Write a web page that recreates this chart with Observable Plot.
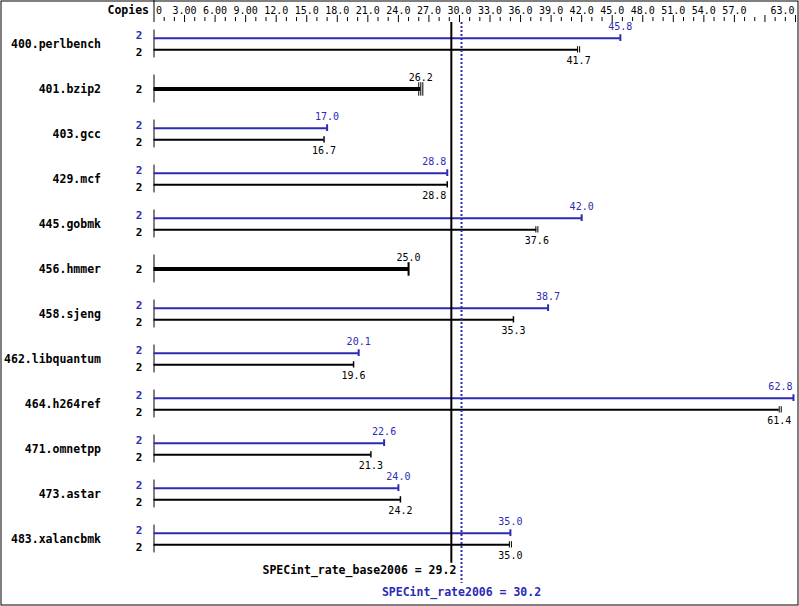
<!DOCTYPE html>
<html><head><meta charset="utf-8">
<script src="https://cdn.jsdelivr.net/npm/d3@7"></script>
<script src="https://cdn.jsdelivr.net/npm/@observablehq/plot@0.6"></script>
<style>body{margin:0;background:#fff}#chart svg{display:block}</style>
</head><body><div id="chart"></div>
<script>
const benchmarks = ["400.perlbench","401.bzip2","403.gcc","429.mcf","445.gobmk","456.hmmer","458.sjeng","462.libquantum","464.h264ref","471.omnetpp","473.astar","483.xalancbmk"];
const peakValues = [45.8, null, 17.0, 28.8, 42.0, null, 38.7, 20.1, 62.8, 22.6, 24.0, 35.0];
const baseValues = [41.7, 26.2, 16.7, 28.8, 37.6, 25.0, 35.3, 19.6, 61.4, 21.3, 24.2, 35.0];
const copies = [2,2,2,2,2,2,2,2,2,2,2,2];
const baseRuns = [[41.6,41.8],[26.0,26.2,26.4],[16.7],[28.8],[37.5,37.7],[25.0],[35.3],[19.6],[61.4,61.6],[21.3],[24.2],[34.9,35.1]];
const xTickValues = [0,3,6,9,12,15,18,21,24,27,30,33,36,39,42,45,48,51,54,57,63];
const xTickLabels = ["0","3.00","6.00","9.00","12.0","15.0","18.0","21.0","24.0","27.0","30.0","33.0","36.0","39.0","42.0","45.0","48.0","51.0","54.0","57.0","63.0"];
const baseScore = 29.2, peakScore = 30.2;
const baseLabel = "SPECint_rate_base2006 = 29.2";
const peakLabel = "SPECint_rate2006 = 30.2";

const BLUE = "#2b2bb3";
const FONT = "DejaVu Sans Mono";
const OFF = 0.13;

const rows = benchmarks.map((name, i) => ({name, i, peak: peakValues[i], base: baseValues[i], copies: copies[i], runs: baseRuns[i]}));
const dual = rows.filter(d => d.peak != null);
const single = rows.filter(d => d.peak == null);
const runTicks = rows.flatMap(d => d.runs.map(v => ({v, i: d.i, single: d.peak == null, n: d.runs.length})));
const ticks = xTickValues.map((v, k) => ({v, label: xTickLabels[k]}));
const minor = d3.range(0, 64, 1);
// labels that would collide with the summary line or the right edge are right-aligned
const shiftLeft = v => v >= 61 || (v < baseScore && baseScore - v < 1.2);

const HEAD_TOP = -0.9667, TICK_LABEL_Y = -0.744, MAJ1 = -0.633, MIN1 = -0.589, TICK_BOT = -0.478;

const chart = Plot.plot({
  width: 799, height: 606,
  marginTop: 0, marginRight: 0, marginBottom: 0, marginLeft: 0,
  x: {domain: [0, 63], range: [153.5, 795], axis: null},
  y: {domain: [-0.9667, 12.5], range: [0, 606], axis: null},
  style: {fontFamily: FONT, background: "white"},
  marks: [
    Plot.frame({stroke: "black", insetLeft: 0.5, insetTop: 0.5, insetBottom: 1.5, insetRight: 1.5}),
    // header axis
    Plot.ruleX([0], {x: d => d, y1: HEAD_TOP, y2: TICK_BOT, stroke: "black"}),
    Plot.ruleX(minor.filter(v => v % 3 !== 0), {x: d => d, y1: MIN1, y2: TICK_BOT - 0.02, stroke: "black"}),
    Plot.ruleX(minor.filter(v => v % 3 === 0 && v > 0), {x: d => d, y1: MAJ1, y2: TICK_BOT, stroke: "black"}),
    Plot.text(ticks.slice(0, 1), {x: "v", y: TICK_LABEL_Y, text: "label", textAnchor: "start", dx: 2, fontSize: 10, fontFamily: FONT}),
    Plot.text(ticks.slice(1, -1), {x: "v", y: TICK_LABEL_Y, text: "label", textAnchor: "middle", fontSize: 10, fontFamily: FONT}),
    Plot.text(ticks.slice(-1), {x: "v", y: TICK_LABEL_Y, text: "label", textAnchor: "end", dx: -1, fontSize: 10, fontFamily: FONT}),
    Plot.text(["Copies"], {x: 0, y: TICK_LABEL_Y, text: d => d, textAnchor: "end", dx: -5, fontSize: 11.5, fontWeight: "bold", fontFamily: FONT}),
    // row baselines
    Plot.ruleX(rows, {x: 0, y1: d => d.i - 0.31, y2: d => d.i + 0.31, stroke: "black"}),
    // names
    Plot.text(rows, {x: 0, y: "i", text: "name", textAnchor: "end", dx: -53, fontSize: 11.5, fontWeight: "bold", fontFamily: FONT}),
    // copies
    Plot.text(dual, {x: 0, y: d => d.i - OFF, text: "copies", dx: -15, dy: -2.5, fontSize: 11, fontWeight: "bold", fill: BLUE, fontFamily: FONT}),
    Plot.text(dual, {x: 0, y: d => d.i + OFF, text: "copies", dx: -15, dy: 2.5, fontSize: 11, fontWeight: "bold", fill: "black", fontFamily: FONT}),
    Plot.text(single, {x: 0, y: "i", text: "copies", dx: -15, fontSize: 11, fontWeight: "bold", fill: "black", fontFamily: FONT}),
    // bars
    Plot.ruleY(dual, {x1: 0, x2: "peak", y: d => d.i - OFF, stroke: BLUE, strokeWidth: 2}),
    Plot.ruleY(dual, {x1: 0, x2: "base", y: d => d.i + OFF, stroke: "black", strokeWidth: 2}),
    Plot.ruleY(single, {x1: 0, x2: "base", y: "i", stroke: "black", strokeWidth: 4}),
    // end ticks
    Plot.ruleX(dual, {x: "peak", y1: d => d.i - OFF - 0.075, y2: d => d.i - OFF + 0.075, stroke: BLUE, strokeWidth: 2}),
    Plot.ruleX(runTicks.filter(d => !d.single), {x: "v", y1: d => d.i + OFF - 0.07, y2: d => d.i + OFF + 0.07, stroke: "black", strokeWidth: d => d.n > 1 ? 1 : 1.5}),
    Plot.ruleX(runTicks.filter(d => d.single), {x: "v", y1: d => d.i - 0.14, y2: d => d.i + 0.16, stroke: "black", strokeWidth: d => d.n > 1 ? 1 : 2}),
    // value labels
    Plot.text(dual.filter(d => !shiftLeft(d.peak)), {x: "peak", y: d => d.i - OFF - 0.245, text: d => d.peak.toFixed(1), fill: BLUE, fontSize: 10, fontFamily: FONT}),
    Plot.text(dual.filter(d => shiftLeft(d.peak)), {x: "peak", y: d => d.i - OFF - 0.245, text: d => d.peak.toFixed(1), textAnchor: "end", dx: -1, fill: BLUE, fontSize: 10, fontFamily: FONT}),
    Plot.text(dual.filter(d => !shiftLeft(d.base)), {x: "base", y: d => d.i + OFF + 0.245, text: d => d.base.toFixed(1), fill: "black", fontSize: 10, fontFamily: FONT}),
    Plot.text(dual.filter(d => shiftLeft(d.base) && d.base < 61), {x: "base", y: d => d.i + OFF + 0.245, text: d => d.base.toFixed(1), textAnchor: "end", dx: -1, fill: "black", fontSize: 10, fontFamily: FONT}),
    Plot.text(dual.filter(d => d.base >= 61), {x: "base", y: d => d.i + OFF + 0.245, text: d => d.base.toFixed(1), fill: "black", fontSize: 10, fontFamily: FONT}),
    Plot.text(single, {x: "base", y: d => d.i - 0.255, text: d => d.base.toFixed(1), fill: "black", fontSize: 10, fontFamily: FONT}),
    // summary lines
    Plot.ruleX([baseScore], {x: d => d, y1: TICK_BOT, y2: 11.54, stroke: "black", strokeWidth: 2}),
    Plot.ruleX([peakScore], {x: d => d, y1: TICK_BOT, y2: 11.99, stroke: BLUE, strokeWidth: 2, strokeDasharray: "2,2"}),
    Plot.text([baseLabel], {x: baseScore, y: 11.7, text: d => d, textAnchor: "end", dx: 5, fontSize: 11.5, fontWeight: "bold", fill: "black", fontFamily: FONT}),
    Plot.text([peakLabel], {x: peakScore, y: 12.18, text: d => d, textAnchor: "middle", fontSize: 11.5, fontWeight: "bold", fill: BLUE, fontFamily: FONT})
  ]
});
document.getElementById("chart").appendChild(chart);
</script>
</body></html>
